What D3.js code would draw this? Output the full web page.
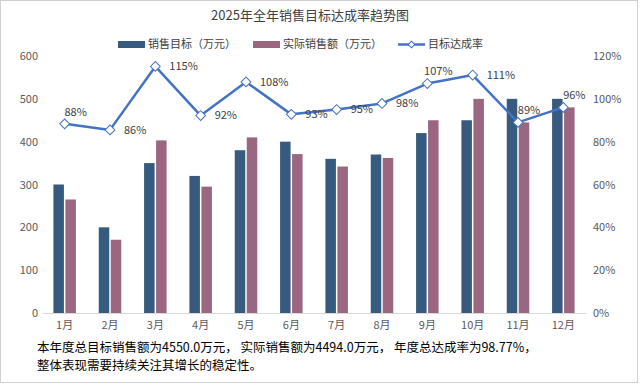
<!DOCTYPE html>
<html>
<head>
<meta charset="utf-8">
<script src="https://cdn.jsdelivr.net/npm/d3@7"></script>
<style>
  body { margin: 0; background: #fff; }
  svg text { font-family: "Noto Sans CJK SC", "Noto Sans", sans-serif; }
</style>
</head>
<body>
<div id="chart"></div>
<script>
var months = ["1月","2月","3月","4月","5月","6月","7月","8月","9月","10月","11月","12月"];
var targetSales = [300, 200, 350, 320, 380, 400, 360, 370, 420, 450, 500, 500];
var actualSales = [265, 171, 403, 295, 410, 371, 342, 362, 450, 500, 445, 480];
var leftTicks = [0, 100, 200, 300, 400, 500, 600];
var rightTicks = [0, 0.2, 0.4, 0.6, 0.8, 1.0, 1.2];
var labelPlacement = ["above","right","right","right","right","right","right","right","above","right","above","above"];
var seriesNames = ["销售目标（万元）", "实际销售额（万元）", "目标达成率"];

var width = 640, height = 386;
var margin = {top: 56, right: 54, bottom: 73, left: 42};
var cTarget = "#375a7f", cActual = "#9b6680", cLine = "#4472c4";

var rates = targetSales.map(function(t, i) { return actualSales[i] / t; });

var svg = d3.select("#chart").append("svg")
  .attr("width", width)
  .attr("height", height);

svg.append("rect")
  .attr("x", 0.5).attr("y", 0.5)
  .attr("width", width - 3).attr("height", height - 4)
  .attr("fill", "#fff")
  .attr("stroke", "#d0d0d0");

var x = d3.scaleBand().domain(months).range([margin.left, width - margin.right]);
var y = d3.scaleLinear().domain([0, 600]).range([height - margin.bottom, margin.top]);
var y2 = d3.scaleLinear().domain([0, 1.2]).range([height - margin.bottom, margin.top]);

// diamond = square turned 45 degrees
var diamond = function(size) { return d3.symbol(d3.symbolSquare, size)(); };

// title
svg.append("text")
  .attr("x", 310).attr("y", 20)
  .attr("text-anchor", "middle")
  .attr("font-size", 13)
  .attr("fill", "#404040")
  .text("2025年全年销售目标达成率趋势图");

// legend
var legend = svg.append("g").attr("font-size", 11).attr("fill", "#404040");
legend.append("rect").attr("x", 118).attr("y", 41).attr("width", 27).attr("height", 7).attr("fill", cTarget);
legend.append("text").attr("x", 148).attr("y", 48).text(seriesNames[0]);
legend.append("rect").attr("x", 253).attr("y", 41).attr("width", 27).attr("height", 7).attr("fill", cActual);
legend.append("text").attr("x", 283).attr("y", 48).text(seriesNames[1]);
legend.append("line").attr("x1", 398).attr("x2", 425).attr("y1", 44.5).attr("y2", 44.5)
  .attr("stroke", cLine).attr("stroke-width", 2.5);
legend.append("path").attr("d", diamond(22))
  .attr("transform", "translate(411.5,44.5) rotate(45)")
  .attr("fill", "#fff").attr("stroke", cLine);
legend.append("text").attr("x", 428).attr("y", 48).text(seriesNames[2]);

// axes
var axisLeft = svg.append("g")
  .attr("transform", "translate(" + (margin.left - 4) + ",0)")
  .call(d3.axisLeft(y).tickValues(leftTicks).tickSize(0).tickPadding(0));
var axisRight = svg.append("g")
  .attr("transform", "translate(" + (width - margin.right + 7) + ",0)")
  .call(d3.axisRight(y2).tickValues(rightTicks).tickSize(0).tickPadding(0).tickFormat(d3.format(".0%")));
var axisBottom = svg.append("g")
  .attr("transform", "translate(0," + (height - margin.bottom) + ")")
  .call(d3.axisBottom(x).tickSize(0).tickPadding(8));

[axisLeft, axisRight].forEach(function(a) { a.select(".domain").remove(); });
axisBottom.select(".domain").attr("stroke", "#d9d9d9");
svg.selectAll(".tick text").attr("font-size", 11).attr("fill", "#595959")
  .attr("font-family", "\"Noto Sans CJK SC\", sans-serif");

// bars
var barW = 10.5, gap = 1.5;
svg.append("g").selectAll("rect")
  .data(targetSales)
  .enter().append("rect")
  .attr("x", function(d, i) { return x(months[i]) + x.bandwidth() / 2 - gap / 2 - barW; })
  .attr("y", function(d) { return y(d); })
  .attr("width", barW)
  .attr("height", function(d) { return y(0) - y(d); })
  .attr("fill", cTarget);

svg.append("g").selectAll("rect")
  .data(actualSales)
  .enter().append("rect")
  .attr("x", function(d, i) { return x(months[i]) + x.bandwidth() / 2 + gap / 2; })
  .attr("y", function(d) { return y(d); })
  .attr("width", barW)
  .attr("height", function(d) { return y(0) - y(d); })
  .attr("fill", cActual);

// rate line
var cx = function(d, i) { return x(months[i]) + x.bandwidth() / 2; };
var line = d3.line().x(cx).y(function(d) { return y2(d); });

svg.append("path")
  .datum(rates)
  .attr("d", line)
  .attr("fill", "none")
  .attr("stroke", cLine)
  .attr("stroke-width", 2.5)
  .attr("stroke-linejoin", "round");

svg.append("g").selectAll("path")
  .data(rates)
  .enter().append("path")
  .attr("d", diamond(48))
  .attr("transform", function(d, i) { return "translate(" + cx(d, i) + "," + y2(d) + ") rotate(45)"; })
  .attr("fill", "#fff")
  .attr("stroke", cLine)
  .attr("stroke-width", 1);

svg.append("g").selectAll("text")
  .data(rates)
  .enter().append("text")
  .attr("x", function(d, i) { return labelPlacement[i] == "above" ? cx(d, i) + 11 : cx(d, i) + 14; })
  .attr("y", function(d) { return y2(d); })
  .attr("dy", function(d, i) { return labelPlacement[i] == "above" ? "-0.75em" : "0.35em"; })
  .attr("text-anchor", function(d, i) { return labelPlacement[i] == "above" ? "middle" : "start"; })
  .attr("font-size", 11)
  .attr("fill", "#404040")
  .text(function(d) { return Math.round(d * 100) + "%"; });

// summary
var totalTarget = d3.sum(targetSales);
var totalActual = d3.sum(actualSales);
var note = svg.append("text")
  .attr("x", 37).attr("y", 352)
  .attr("font-size", 12.5)
  .attr("fill", "#000");
note.append("tspan").attr("x", 37)
  .text("本年度总目标销售额为" + totalTarget.toFixed(1) + "万元， 实际销售额为" + totalActual.toFixed(1) +
    "万元， 年度总达成率为" + (totalActual / totalTarget * 100).toFixed(2) + "%，");
note.append("tspan").attr("x", 37).attr("dy", 18)
  .text("整体表现需要持续关注其增长的稳定性。");
</script>
</body>
</html>
